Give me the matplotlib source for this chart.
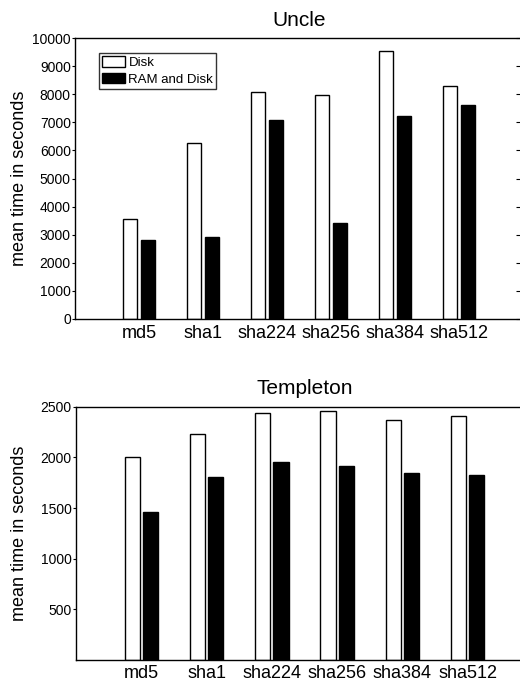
import matplotlib
matplotlib.use("Agg")
import matplotlib.pyplot as plt
import numpy as np

plt.rcParams['font.family'] = ['Liberation Sans', 'DejaVu Sans']

categories = ["md5", "sha1", "sha224", "sha256", "sha384", "sha512"]
uncle_disk = [3570, 6280, 8080, 7975, 9525, 8295]
uncle_ram = [2820, 2920, 7075, 3430, 7240, 7600]
templeton_disk = [2007, 2234, 2438, 2457, 2365, 2408]
templeton_ram = [1457, 1803, 1957, 1918, 1845, 1826]
uncle_yticks = list(range(0, 10001, 1000))
templeton_yticks = [500, 1000, 1500, 2000, 2500]

W, H = 520, 681
fig = plt.figure(figsize=(W / 100, H / 100), dpi=100)

def make_ax(left, right, top, bottom):
    return fig.add_axes([left / W, (H - bottom) / H, (right - left) / W, (bottom - top) / H])

ax1 = make_ax(75, 523, 38, 319)
ax2 = make_ax(76, 533, 406.7, 660)

def draw(ax, disk, ram, title, ylim, yticks, width_px, left_px, xpad):
    x = np.arange(1, len(categories) + 1)
    w = 0.23
    off = 0.14
    ax.bar(x - off, disk, w, color='white', edgecolor='black', linewidth=1.0, label='Disk')
    ax.bar(x + off, ram, w, color='black', edgecolor='black', linewidth=1.0, label='RAM and Disk')
    ax.set_xlim(0, 7)
    ax.set_ylim(*ylim)
    ax.set_xticks(x)
    ax.set_xticklabels(categories, fontsize=13)
    ax.set_yticks(yticks)
    ax.set_yticklabels([str(v) for v in yticks], fontsize=10)
    ax.tick_params(axis='x', length=0, pad=xpad)
    ax.tick_params(axis='y', direction='out', length=2.2, width=0.8, pad=0.8)
    sec = ax.secondary_yaxis('right')
    sec.set_yticks(yticks)
    sec.set_yticklabels([])
    sec.tick_params(direction='in', length=5, width=0.8)
    sec.spines['right'].set_linewidth(1.0)
    ax.set_ylabel('mean time in seconds', fontsize=13)
    ax.yaxis.set_label_coords((28 - left_px) / width_px, 0.5)
    ax.set_title(title, fontsize=15, pad=9)
    for s in ax.spines.values():
        s.set_linewidth(1.0)
    return ax

draw(ax1, uncle_disk, uncle_ram, 'Uncle', (0, 10000), uncle_yticks, 448, 75, 4.0)
draw(ax2, templeton_disk, templeton_ram, 'Templeton', (0, 2500), templeton_yticks, 457, 76, 3.5)

leg = ax1.legend(loc='upper left', bbox_to_anchor=(24 / 448, 1 - 15 / 281), fontsize=9.5,
                 frameon=True, fancybox=False, edgecolor='black', borderpad=0.25,
                 handlelength=1.75, handleheight=0.85, handletextpad=0.23, labelspacing=0.27,
                 borderaxespad=0)
leg.get_frame().set_linewidth(1.0)

fig.savefig('out.png', dpi=100)
